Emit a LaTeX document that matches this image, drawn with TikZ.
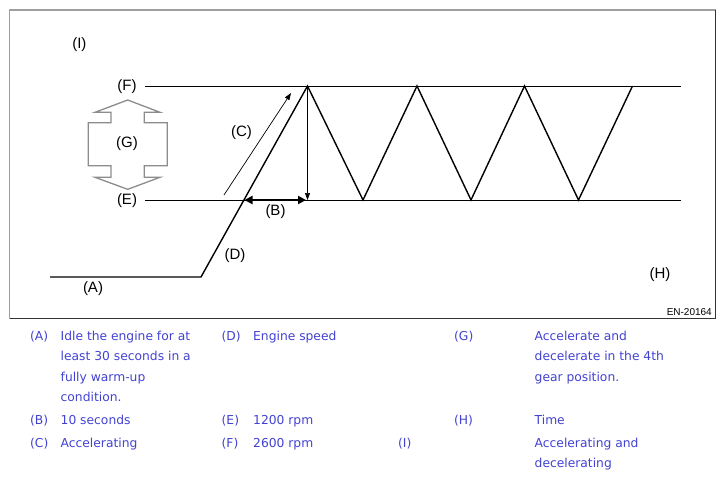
\documentclass[tikz,border=0pt]{standalone}
\usepackage{fontspec}
\setmainfont{Liberation Sans}
\newfontfamily\legfont{DejaVu Sans}
\usetikzlibrary{arrows.meta}
\definecolor{legblue}{RGB}{66,66,210}
\definecolor{shapegray}{RGB}{140,140,140}
\begin{document}
\begin{tikzpicture}[x=1pt,y=-1pt,
  lbl/.style={font=\fontsize{15}{17}\selectfont, inner sep=0pt},
  leg/.style={font=\legfont\fontsize{12.3}{14}\selectfont, text=legblue, inner sep=0pt, anchor=base west},
  curve/.style={line width=1.4pt, line join=miter},
  guide/.style={line width=1pt},
  thinarrow/.style={line width=0.7pt, -{Triangle[length=7pt,width=5pt]}},
  boldarrow/.style={line width=2pt, {Triangle[length=8pt,width=8pt]}-{Triangle[length=8pt,width=8pt]}}]
\useasboundingbox (0,0) rectangle (724,479);
% frame
\coordinate (frTL) at (9.5,10);
\coordinate (frTR) at (715.5,10);
\coordinate (frBR) at (715.5,318.5);
\coordinate (frBL) at (9.5,318.5);
\draw[gray!75, line width=1.2pt] (frBL) -- (frTL) -- (frTR);
\draw[gray!40!black, line width=1.2pt] (frTR) -- (frBR) -- (frBL);
% guide lines
\coordinate (F0) at (145,86);
\coordinate (F1) at (681,86);
\coordinate (E0) at (145,200);
\coordinate (E1) at (681,200);
\draw[guide] (F0) -- (F1);
\draw[guide] (E0) -- (E1);
% engine speed curve
\coordinate (A0) at (50,277);
\coordinate (A1) at (201,277);
\coordinate (P1) at (307.5,86);
\coordinate (T1) at (363,200);
\coordinate (P2) at (417,86);
\coordinate (T2) at (471,200);
\coordinate (P3) at (524.5,86);
\coordinate (T3) at (578.5,200);
\coordinate (P4) at (632.5,86);
\draw[curve] (A0) -- (A1) -- (P1) -- (T1) -- (P2) -- (T2) -- (P3) -- (T3) -- (P4);
% vertical arrow
\coordinate (V1) at (307.5,200);
\draw[thinarrow] (P1) -- (V1);
% B arrow
\coordinate (B0) at (244.5,200);
\coordinate (B1) at (306,200);
\draw[boldarrow] (B0) -- (B1);
% C arrow
\coordinate (C0) at (224,195);
\coordinate (C1) at (291,93);
\draw[thinarrow] (C0) -- (C1);
% G double arrow shape
\draw[shapegray, line width=1.3pt, line join=miter]
  (127.7,100) -- (160,112.3) -- (144.3,112.3) -- (144.3,122.7) -- (167.3,122.7)
  -- (167.3,165.7) -- (144.3,165.7) -- (144.3,177.3) -- (160,177.3) -- (127.7,189.3)
  -- (95,177.3) -- (111,177.3) -- (111,165.7) -- (88.3,165.7) -- (88.3,122.7)
  -- (111,122.7) -- (111,112.3) -- (95,112.3) -- cycle;
% labels
\node[lbl] (lI) at (79.4,45) {(I)};
\node[lbl] (lF) at (127,86.5) {(F)};
\node[lbl] (lG) at (127,143.5) {(G)};
\node[lbl] (lE) at (127,200.5) {(E)};
\node[lbl] (lC) at (241.5,133) {(C)};
\node[lbl] (lB) at (275.5,211.5) {(B)};
\node[lbl] (lD) at (235,256) {(D)};
\node[lbl] (lA) at (93,289) {(A)};
\node[lbl] (lH) at (660,275) {(H)};
\node[font=\fontsize{10}{12}\selectfont, inner sep=0pt, anchor=east] (code) at (712,312) {EN-20164};
% legend
\node[leg] (kA) at (30,340) {(A)};
\node[leg] (kA1) at (60.5,340) {Idle the engine for at};
\node[leg] (kA2) at (60.5,360) {least 30 seconds in a};
\node[leg] (kA3) at (60.5,381) {fully warm-up};
\node[leg] (kA4) at (60.5,401) {condition.};
\node[leg] (kD) at (221.5,340) {(D)};
\node[leg] (kD1) at (253,340) {Engine speed};
\node[leg] (kG) at (454,340) {(G)};
\node[leg] (kG1) at (534.5,340) {Accelerate and};
\node[leg] (kG2) at (534.5,360) {decelerate in the 4th};
\node[leg] (kG3) at (534.5,381) {gear position.};
\node[leg] (kB) at (30,424.5) {(B)};
\node[leg] (kB1) at (60.5,424.5) {10 seconds};
\node[leg] (kE) at (221.5,424.5) {(E)};
\node[leg] (kE1) at (253,424.5) {1200 rpm};
\node[leg] (kH) at (454,424.5) {(H)};
\node[leg] (kH1) at (534.5,424.5) {Time};
\node[leg] (kC) at (30,447) {(C)};
\node[leg] (kC1) at (60.5,447) {Accelerating};
\node[leg] (kF) at (221.5,447) {(F)};
\node[leg] (kF1) at (253,447) {2600 rpm};
\node[leg] (kI) at (398,447) {(I)};
\node[leg] (kI1) at (534.5,447) {Accelerating and};
\node[leg] (kI2) at (534.5,467) {decelerating};
\end{tikzpicture}
\end{document}
